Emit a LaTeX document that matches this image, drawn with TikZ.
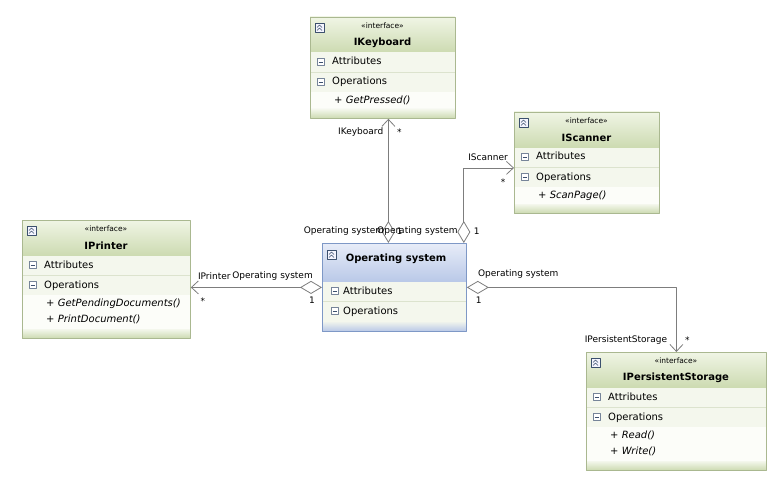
\documentclass[tikz,border=0pt]{standalone}
\usepackage{fontspec}
\setmainfont{DejaVu Sans}
\usetikzlibrary{arrows.meta}
\definecolor{grtop}{RGB}{240,245,229}
\definecolor{grbot}{RGB}{205,219,178}
\definecolor{grrow}{RGB}{244,247,237}
\definecolor{grmeth}{RGB}{252,253,249}
\definecolor{grline}{RGB}{170,184,144}
\definecolor{grsep}{RGB}{220,227,206}
\definecolor{bltop}{RGB}{232,237,248}
\definecolor{blbot}{RGB}{186,201,232}
\definecolor{blline}{RGB}{126,152,198}
\definecolor{connc}{RGB}{125,125,125}
\definecolor{icoc}{RGB}{60,80,110}
% small icons
\newcommand\collapseicon[2]{\draw[icobox,draw=icoc,fill=blue!4] ({#1},{#2}) rectangle ++(9,9);
  \draw[icoline] ({#1+2},{#2+4.5}) -- ({#1+4.5},{#2+2}) -- ({#1+7},{#2+4.5}) ({#1+2},{#2+7.5}) -- ({#1+4.5},{#2+5}) -- ({#1+7},{#2+7.5});}
\newcommand\minusicon[2]{\draw[icobox] ({#1},{#2-3.5}) rectangle ++(7,7); \draw[icoline] ({#1+1.5},{#2}) -- ++(4,0);}
% interface box: name, x, y, width, number of methods, title, methods
\newcommand\ifacebox[7]{%
  \pgfmathsetmacro\bh{84+17*#5}
  \fill[grrow] (#2,#3) rectangle ++(#4,\bh);
  \shade[top color=grtop,bottom color=grbot] (#2,#3) rectangle ++(#4,35);
  \fill[grmeth] (#2,{#3+75}) rectangle ++(#4,{17*#5});
  \shade[top color=grrow,bottom color=grbot] (#2,{#3+\bh-9}) rectangle ++(#4,9);
  \draw[grsep] (#2,{#3+55}) -- ++(#4,0);
  \node[ifbox,minimum width=#4pt,minimum height=\bh pt,anchor=north west] (#1) at (#2,#3) {};
  \collapseicon{#2+5}{#3+6}
  \node[stereo] (#1-st) at ({#2+#4/2},{#3+9}) {«interface»};
  \node[ttl] (#1-tt) at ({#2+#4/2},{#3+26}) {#6};
  \minusicon{#2+7}{#3+45}\node[cmp] (#1-at) at ({#2+22},{#3+45}) {Attributes};
  \minusicon{#2+7}{#3+65}\node[cmp] (#1-op) at ({#2+22},{#3+65}) {Operations};
  \node[meth] (#1-me) at ({#2+24},{#3+79}) {#7};
}
\begin{document}
\begin{tikzpicture}[x=1pt,y=-1pt,line join=round,font=\fontsize{10}{12}\selectfont,
  ifbox/.style={draw=grline,line width=0.8pt,inner sep=0},
  osbox/.style={draw=blline,line width=0.8pt,inner sep=0},
  icobox/.style={draw=icoc!70,fill=white,line width=0.6pt},
  icoline/.style={draw=icoc,line width=0.6pt},
  stereo/.style={inner sep=0,font=\fontsize{7.5}{9}\selectfont},
  ttl/.style={inner sep=0,font=\fontsize{10}{12}\selectfont\bfseries},
  cmp/.style={inner sep=0,anchor=west,text height=7.5pt,text depth=1.5pt},
  meth/.style={inner sep=0,anchor=north west,align=left,font=\fontsize{10}{16}\selectfont\itshape},
  lbl/.style={inner sep=0,font=\fontsize{9}{11}\selectfont},
  assoc/.style={draw=connc,line width=0.8pt,{Diamond[open,length=22pt,width=13pt]}-{Straight Barb[length=7pt,width=13pt]}}]
	\useasboundingbox (0,0) rectangle (776,484);
	\ifacebox{kb}{310}{17}{145}{1}{IKeyboard}{+ GetPressed()}
	\ifacebox{sc}{514}{112}{145}{1}{IScanner}{+ ScanPage()}
	\ifacebox{pr}{22}{220}{168}{2}{IPrinter}{+ GetPendingDocuments()\\+ PrintDocument()}
	\ifacebox{ps}{586}{352}{180}{2}{IPersistentStorage}{+ Read()\\+ Write()}
	% the operating system class
	\fill[grrow] (322,243) rectangle ++(144,88);
	\shade[top color=bltop,bottom color=blbot] (322,243) rectangle ++(144,38);
	\shade[top color=grrow,bottom color=blbot] (322,321) rectangle ++(144,10);
	\draw[grsep] (322,301) -- ++(144,0);
	\node[osbox,minimum width=144pt,minimum height=88pt,anchor=north west] (os) at (322,243) {};
	\collapseicon{327}{250}
	\node[ttl] (os-tt) at (396,259) {Operating system};
	\minusicon{331}{291}\node[cmp] (os-at) at (343,291) {Attributes};
	\minusicon{331}{311}\node[cmp] (os-op) at (343,311) {Operations};
	% associations
	\draw[assoc] ([xshift=-6pt]os.north) coordinate (k0) -- (k0 |- kb.south) coordinate (k1);
	\draw[assoc] ([xshift=-3pt]os.north east) coordinate (s0) |- ([yshift=-5pt]sc.west) coordinate (s1);
	\draw[assoc] (os.west) coordinate (p0) -- (os.west -| pr.east) coordinate (p1);
	\draw[assoc] (os.east) coordinate (q0) -| (ps.north) coordinate (q1);
	\node[lbl,anchor=east] (k0-a) at ([shift={(-4pt,12pt)}]k0) {Operating system};
	\node[lbl] (k0-b) at ([shift={(11pt,12pt)}]k0) {1};
	\node[lbl,anchor=east] (k1-a) at ([shift={(-5pt,-13pt)}]k1) {IKeyboard};
	\node[lbl] (k1-b) at ([shift={(11pt,-13pt)}]k1) {*};
	\node[lbl,anchor=east] (s0-a) at ([shift={(-6pt,12pt)}]s0) {Operating system};
	\node[lbl] (s0-b) at ([shift={(13pt,12pt)}]s0) {1};
	\node[lbl,anchor=east] (s1-a) at ([shift={(-6pt,11pt)}]s1) {IScanner};
	\node[lbl] (s1-b) at ([shift={(-11pt,-14pt)}]s1) {*};
	\node[lbl,anchor=east] (p0-a) at ([shift={(-9pt,11pt)}]p0) {Operating system};
	\node[lbl] (p0-b) at ([shift={(-10pt,-13pt)}]p0) {1};
	\node[lbl,anchor=west] (p1-a) at ([shift={(7pt,11pt)}]p1) {IPrinter};
	\node[lbl] (p1-b) at ([shift={(12pt,-14pt)}]p1) {*};
	\node[lbl,anchor=west] (q0-a) at ([shift={(11pt,13pt)}]q0) {Operating system};
	\node[lbl] (q0-b) at ([shift={(12pt,-13pt)}]q0) {1};
	\node[lbl,anchor=east] (q1-a) at ([shift={(-9pt,12pt)}]q1) {IPersistentStorage};
	\node[lbl] (q1-b) at ([shift={(11pt,12pt)}]q1) {*};
\end{tikzpicture}
\end{document}
